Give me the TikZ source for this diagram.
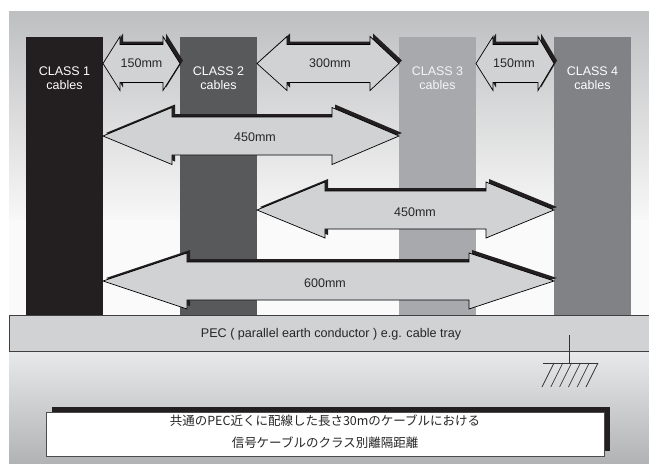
\documentclass[tikz,border=0pt]{standalone}
\usepackage{fontspec}
\setmainfont{Liberation Sans}
\newfontfamily\jpfont{Noto Sans CJK JP}
\definecolor{cone}{HTML}{231F20}
\definecolor{ctwo}{HTML}{58595B}
\definecolor{cthree}{HTML}{A7A9AC}
\definecolor{cfour}{HTML}{808285}
\definecolor{arrowfill}{HTML}{D1D2D4}
\definecolor{pecfill}{HTML}{D1D2D4}
\definecolor{bgtop}{HTML}{BEBFC1}
\definecolor{bglow}{HTML}{E8E9EA}
\definecolor{bgbot}{HTML}{B2B3B5}
\tikzset{
  coltext/.style={text=white, font=\fontsize{12.5}{14.5}\selectfont, align=center, inner sep=0pt},
  dimtext/.style={text=black!85, font=\fontsize{12.5}{14}\selectfont, inner sep=0pt},
  arrowshadow/.style={fill=cone},
  arrowbody/.style={fill=arrowfill, draw=black, line width=0.7pt, line join=miter},
  gnd/.style={draw=black!80, line width=0.7pt},
}
% #1 left tip x, #2 left head base x, #3 right head base x, #4 right tip x,
% #5 centre y, #6 head half height, #7 shaft half height
\newcommand\blockarrow[7]{%
  \path[arrowshadow, shift={(3,-3)}] (#1,#5) -- (#2,#5-#6) -- (#2,#5-#7) -- (#3,#5-#7) -- (#3,#5-#6) -- (#4,#5)
     -- (#3,#5+#6) -- (#3,#5+#7) -- (#2,#5+#7) -- (#2,#5+#6) -- cycle;
  \path[arrowbody] (#1,#5) -- (#2,#5-#6) -- (#2,#5-#7) -- (#3,#5-#7) -- (#3,#5-#6) -- (#4,#5)
     -- (#3,#5+#6) -- (#3,#5+#7) -- (#2,#5+#7) -- (#2,#5+#6) -- cycle;
}
\begin{document}
\begin{tikzpicture}[x=1pt,y=-1pt]
\useasboundingbox (0,0) rectangle (649,464);
\fill[white] (0,0) rectangle (649,464);
% background panel
\shade[top color=bgtop, bottom color=white!97!black] (9,11) rectangle (649,220);
\fill[white!98!black] (9,220) rectangle (649,315);
\shade[top color=bglow, bottom color=bgbot] (9,351) rectangle (649,463);
% cable columns
\fill[cone]   (26,37) rectangle (103,315);
\fill[ctwo]   (180,37) rectangle (257,315);
\fill[cthree] (399,37) rectangle (476,315);
\fill[cfour]  (554,37) rectangle (631,315);
\node[coltext] (t1) at (64.5,78) {CLASS 1\\cables};
\node[coltext] (t2) at (218.5,78) {CLASS 2\\cables};
\node[coltext, text=white!96!black] (t3) at (437.5,78) {CLASS 3\\cables};
\node[coltext] (t4) at (592.5,78) {CLASS 4\\cables};
% arrows
\blockarrow{103}{120}{163}{180}{63.5}{27}{19}
\blockarrow{257}{287}{370}{399}{63.5}{27}{19}
\blockarrow{476}{493}{538}{554}{63.5}{27}{19}
\blockarrow{103}{172}{332}{399}{136}{28.5}{19}
\blockarrow{257}{325}{486}{554}{210}{28}{19}
\blockarrow{103}{187}{469}{554}{281}{28}{19}
\node[dimtext] (d1) at (141.5,63) {150mm};
\node[dimtext] (d2) at (330,63) {300mm};
\node[dimtext] (d3) at (514,63) {150mm};
\node[dimtext] (d4) at (255,137) {450mm};
\node[dimtext] (d5) at (415,212) {450mm};
\node[dimtext] (d6) at (325,283) {600mm};
% PEC bar
\path[fill=pecfill, draw=black!75, line width=0.8pt] (9,315) rectangle (649,351);
\node[dimtext, font=\fontsize{12.6}{14}\selectfont] (pec) at (331,334) {PEC ( parallel earth conductor ) e.g. cable tray};
% ground symbol
\coordinate (g0) at (569,335);
\coordinate (g1) at (569,363);
\draw[gnd] (g0) -- (g1);
\draw[gnd] (543,363) -- (598,363);
\foreach \i in {0,...,5}{
  \draw[gnd] ({554+8.8*\i},363) -- ({542+8.8*\i},387);
}
% caption
\fill[cone] (52,407) rectangle (610,451);
\path[fill=white, draw=black!70, line width=0.7pt] (46,412) rectangle (604,456);
\node[text=black!85, font=\jpfont\fontsize{12.5}{22}\selectfont, align=center, inner sep=0pt] (cap) at (325,432)
  {共通のPEC近くに配線した長さ30mのケーブルにおける\\信号ケーブルのクラス別離隔距離};
\end{tikzpicture}
\end{document}
